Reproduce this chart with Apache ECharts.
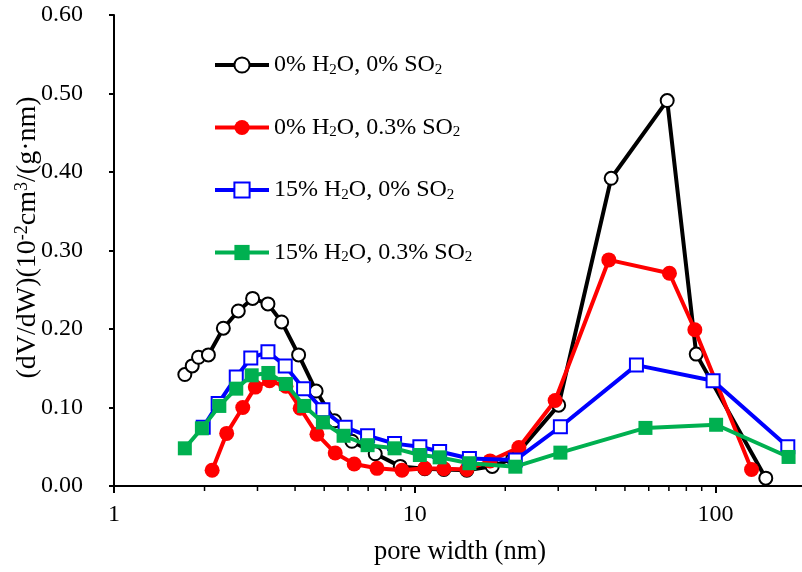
<!DOCTYPE html>
<html><head><meta charset="utf-8">
<script src="https://cdn.jsdelivr.net/npm/echarts@6/dist/echarts.min.js"></script>
<style>html,body{margin:0;padding:0;background:#fff}#c{width:802px;height:572px}</style>
</head><body><div id="c"></div>
<script>
// ---- data ----
const seriesNames = ['0% H2O, 0% SO2', '0% H2O, 0.3% SO2', '15% H2O, 0% SO2', '15% H2O, 0.3% SO2'];

const blackX = [1.72, 1.82, 1.91, 2.06, 2.31, 2.59, 2.89, 3.25, 3.61, 4.11, 4.70, 5.41, 6.18, 7.39, 8.95, 10.8, 12.5, 14.9, 18.1, 21.2, 30.1, 45.0, 69.1, 86.3, 147];
const blackY = [0.142, 0.153, 0.164, 0.167, 0.201, 0.223, 0.239, 0.232, 0.209, 0.167, 0.121, 0.083, 0.057, 0.041, 0.025, 0.022, 0.021, 0.020, 0.025, 0.035, 0.103, 0.392, 0.491, 0.168, 0.010];

const redX = [2.12, 2.37, 2.68, 2.95, 3.29, 3.73, 4.16, 4.73, 5.44, 6.29, 7.49, 9.07, 10.8, 12.5, 14.9, 17.8, 22.2, 29.3, 44.2, 70.3, 85.4, 131.8];
const redY = [0.020, 0.067, 0.100, 0.126, 0.134, 0.127, 0.099, 0.066, 0.042, 0.028, 0.0225, 0.020, 0.0225, 0.022, 0.021, 0.032, 0.049, 0.109, 0.288, 0.271, 0.199, 0.021];

const blueX = [1.98, 2.22, 2.55, 2.85, 3.25, 3.71, 4.27, 4.95, 5.87, 6.97, 8.57, 10.4, 12.1, 15.2, 21.6, 30.5, 54.6, 98.2, 174];
const blueY = [0.075, 0.105, 0.139, 0.163, 0.171, 0.153, 0.124, 0.097, 0.075, 0.064, 0.054, 0.050, 0.044, 0.035, 0.033, 0.0755, 0.154, 0.134, 0.050];

const greenX = [1.72, 1.96, 2.24, 2.55, 2.87, 3.26, 3.73, 4.29, 4.95, 5.80, 6.97, 8.57, 10.4, 12.1, 15.2, 21.6, 30.5, 58.5, 100.5, 175];
const greenY = [0.048, 0.0735, 0.102, 0.124, 0.141, 0.144, 0.130, 0.102, 0.081, 0.064, 0.052, 0.048, 0.0395, 0.0365, 0.029, 0.0246, 0.0425, 0.074, 0.078, 0.037];

const xMajorTicks = [1, 10, 100];
const xMinorTicks = [2, 3, 4, 5, 6, 7, 8, 9, 20, 30, 40, 50, 60, 70, 80, 90, 200];
const yMin = 0, yMax = 0.6, yStep = 0.1;
const xMin = 1, xMax = 200;

// ---- chart ----
const FONT = "'Liberation Serif', 'Times New Roman', serif";
const pairs = (xs, ys) => xs.map((x, i) => [x, ys[i]]);
const richName = n => n.replace(/H2O/g, 'H{s|2}O').replace(/SO2/g, 'SO{s|2}');

const chart = echarts.init(document.getElementById('c'), null, { renderer: 'canvas' });

const colors = ['#000000', '#ff0000', '#0000ff', '#00b050'];
const symbols = ['emptyCircle', 'circle', 'emptyRect', 'rect'];
const sizes = [13, 15, 13, 14];
const data = [pairs(blackX, blackY), pairs(redX, redY), pairs(blueX, blueY), pairs(greenX, greenY)];

const lineSeries = seriesNames.map((name, i) => ({
  name: name,
  type: 'line',
  data: data[i],
  symbol: symbols[i],
  symbolSize: sizes[i],
  showAllSymbol: true,
  smooth: false,
  clip: false,
  color: colors[i],
  lineStyle: { color: colors[i], width: 4 },
  itemStyle: { color: colors[i], borderColor: colors[i], borderWidth: (i === 0 ? 1.5 : (i === 2 ? 2 : 0)) },
  emphasis: { disabled: true },
  z: 3 + i
}));

const minorTickSeries = {
  type: 'custom',
  silent: true,
  clip: false,
  z: 10,
  data: xMinorTicks.map(v => [v, yMin]),
  encode: { x: 0, y: 1 },
  renderItem: function (params, api) {
    const p = api.coord([api.value(0), api.value(1)]);
    return {
      type: 'line',
      shape: { x1: p[0], y1: p[1], x2: p[0], y2: p[1] + 5 },
      style: { stroke: '#000', lineWidth: 1.5 }
    };
  }
};

chart.setOption({
  animation: false,
  backgroundColor: '#ffffff',
  grid: { left: 114, top: 15, right: -4, bottom: 86, containLabel: false, outerBoundsMode: 'none' },
  legend: {
    data: seriesNames,
    orient: 'vertical',
    left: 208,
    top: 48,
    itemGap: 38,
    itemWidth: 54,
    itemHeight: 19,
    lineStyle: { width: 4 },
    formatter: n => richName(n),
    textStyle: {
      fontFamily: FONT, fontSize: 24, color: '#000',
      rich: {
        s: { fontFamily: FONT, fontSize: 15, padding: [10, 0, 0, 0], color: '#000' }
      }
    }
  },
  xAxis: {
    type: 'log',
    logBase: 10,
    min: xMin,
    max: xMax,
    name: 'pore width (nm)',
    nameLocation: 'middle',
    nameGap: 53,
    nameMoveOverlap: false,
    nameTextStyle: { fontFamily: FONT, fontSize: 26.5, color: '#000' },
    axisLine: { lineStyle: { color: '#000', width: 2 } },
    axisTick: { show: true, length: 7, lineStyle: { color: '#000', width: 2 } },
    axisLabel: {
      fontFamily: FONT, fontSize: 24, color: '#000', margin: 17,
      showMaxLabel: false,
      formatter: v => (xMajorTicks.some(t => Math.abs(t - v) < 1e-6) ? String(v) : '')
    },
    splitLine: { show: false }
  },
  yAxis: {
    type: 'value',
    min: yMin,
    max: yMax,
    interval: yStep,
    name: '(dV/dW)(10{p|-2}cm{p|3}/(g·nm)',
    nameLocation: 'middle',
    nameGap: 72,
    nameRotate: 90,
    nameMoveOverlap: false,
    nameTextStyle: {
      fontFamily: FONT, fontSize: 28, color: '#000',
      padding: [0, 0, 0, 26],
      rich: {
        p: { fontFamily: FONT, fontSize: 18, padding: [0, 0, 11, 0], color: '#000' }
      }
    },
    axisLine: { show: true, lineStyle: { color: '#000', width: 2 } },
    axisTick: { show: true, length: 5, lineStyle: { color: '#000', width: 2 } },
    axisLabel: {
      fontFamily: FONT, fontSize: 24, color: '#000', margin: 31,
      formatter: v => v.toFixed(2)
    },
    splitLine: { show: false }
  },
  series: lineSeries.concat([minorTickSeries])
});
</script>
</body></html>
